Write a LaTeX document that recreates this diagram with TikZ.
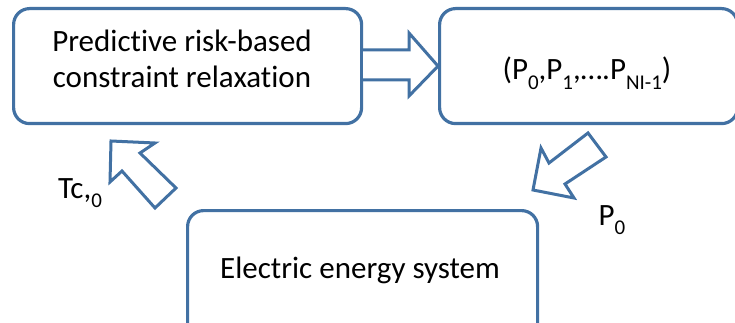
\documentclass[tikz,border=0pt]{standalone}
\usepackage{fontspec}
\setmainfont[Ligatures=NoCommon]{Carlito}
\definecolor{edgeblue}{RGB}{66,113,163}
% lowered, smaller index text
\newcommand\idx[1]{\raisebox{-0.3em}{\fontsize{21}{24}\selectfont #1}}
\begin{document}
\begin{tikzpicture}[x=1pt,y=-1pt,
  panel/.style={draw=edgeblue, line width=3.2pt, rounded corners=16pt,
    anchor=north west, inner sep=0pt},
  blockarrow/.style={draw=edgeblue, line width=3pt, fill=white, line join=miter},
  lbl/.style={font=\fontsize{31}{36}\selectfont, inner sep=0pt, anchor=base}]
\useasboundingbox (0,0) rectangle (735,323);
\begin{scope}
\clip (0,0) rectangle (735,323);
% the three blocks
\node[panel, minimum width=348pt, minimum height=115pt] (relax) at (12,7) {};
\node[panel, minimum width=298pt, minimum height=115pt] (seq) at (438,7) {};
\node[panel, minimum width=350pt, minimum height=140pt] (grid) at (186,209) {};
% block texts
\node[lbl] (relaxA) at (182,52) {Predictive risk-based};
\node[lbl] (relaxB) at (182,88) {constraint relaxation};
\node[lbl] (seqtxt) at (587,80) {(P\idx{0},P\idx{1},….P\idx{NI-1})};
\node[lbl] (gridtxt) at (360,278) {Electric energy system};
% block arrows
\draw[blockarrow] (relax.east |- 0,50) -- (409,50) -- (409,33) -- (seq.west) -- (409,96)
  -- (409,80) -- (relax.east |- 0,80);
\draw[blockarrow] (176,188) -- (140,153) -- (155,143) -- (111,141) -- (110,182)
  -- (122,171) -- (155,208) -- cycle;
\draw[blockarrow] (588,133) -- (549,163) -- (541,148) -- (533,190) -- (574,198)
  -- (565,184) -- (606,157) -- cycle;
% arrow labels
\node[lbl] (tclbl) at (80,198) {Tc,\idx{0}};
\node[lbl] (plbl) at (612,225) {P\idx{0}};
\end{scope}
\end{tikzpicture}
\end{document}
